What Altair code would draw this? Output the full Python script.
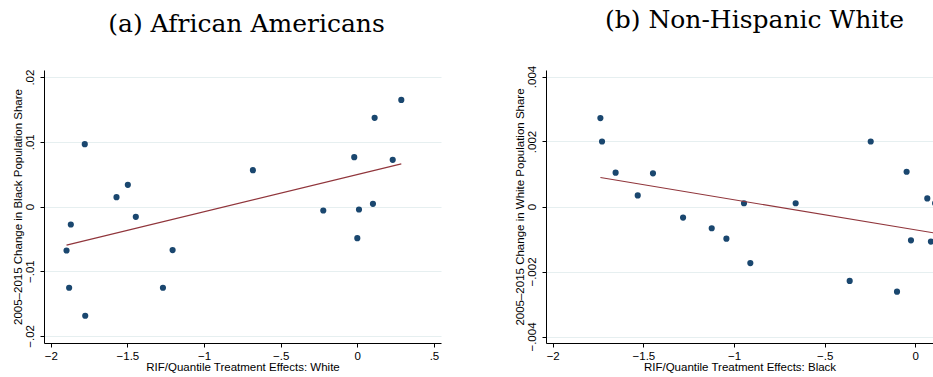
import altair as alt
import pandas as pd

# Panel (a): African Americans
a_x = [-1.778, 0.287, 0.113, -0.020, 0.231, -0.681, -1.497, -1.571, -1.445, -1.869,
       -0.222, 0.011, 0.102, 0.000, -1.897, -1.205, -1.880, -1.268, -1.775]
a_y = [0.00963, 0.01647, 0.0137, 0.00762, 0.00721, 0.00561, 0.00335, 0.00144, -0.0016, -0.00278,
       -0.00062, -0.00046, 0.00041, -0.00489, -0.0068, -0.00674, -0.01256, -0.01256, -0.01689]
a_fit_x = [-1.897, 0.287]
a_fit_y = [-0.00597, 0.00659]

# Panel (b): Non-Hispanic White
b_x = [-1.737, -1.728, -1.653, -1.447, -1.531, -1.281, -1.123, -1.042, -0.945, -0.910,
       -0.660, -0.362, -0.246, -0.101, -0.048, -0.024, 0.066, 0.086, 0.109]
b_y = [0.00272, 0.0020, 0.00104, 0.00102, 0.00034, -0.00034, -0.00067, -0.00099, 0.0001, -0.00174,
       0.0001, -0.00229, 0.0020, -0.00262, 0.00107, -0.00104, 0.00025, -0.00108, 0.0001]
b_fit_x = [-1.737, 0.1]
b_fit_y = [0.00089, -0.00081]

a_xticks = [-2, -1.5, -1, -0.5, 0, 0.5]
a_yticks = [-0.02, -0.01, 0, 0.01, 0.02]
b_xticks = [-2, -1.5, -1, -0.5, 0]
b_yticks = [-0.004, -0.002, 0, 0.002, 0.004]

SANS = "Liberation Sans"
SERIF = "DejaVu Serif"
LBL = "datum.value == 0 ? '0' : replace(format(datum.value, '.3~f'), '0.', '.')"


def panel(px, py, fx, fy, xdom, ydom, xticks, yticks, xtitle, ytitle, title, tdx, width):
    pts = pd.DataFrame({"x": px, "y": py})
    fit = pd.DataFrame({"x": fx, "y": fy})
    xenc = alt.X("x:Q", scale=alt.Scale(domain=xdom, nice=False, zero=False),
                 axis=alt.Axis(values=xticks, labelExpr=LBL, grid=False, tickSize=4,
                               labelPadding=3, labelFont=SANS, labelFontSize=11.5,
                               labelColor="black", title=xtitle, titleFont=SANS,
                               titleFontSize=11.5, titleFontWeight="normal", titleColor="black",
                               titlePadding=0, domainColor="black", tickColor="black",
                               labelFlush=False))
    yenc = alt.Y("y:Q", scale=alt.Scale(domain=ydom, nice=False, zero=False),
                 axis=alt.Axis(values=yticks, labelExpr=LBL, grid=True, gridColor="#e6eff0",
                               gridWidth=1, tickSize=4, labelPadding=5, labelAngle=270,
                               labelAlign="center", labelBaseline="bottom", labelFont=SANS,
                               labelFontSize=11.5, labelColor="black", title=ytitle,
                               titleFont=SANS, titleFontSize=11.5, titleFontWeight="normal",
                               titleColor="black", titlePadding=1, domainColor="black",
                               tickColor="black", labelFlush=False))
    dots = alt.Chart(pts).mark_circle(size=38, color="#1a476f", opacity=1, clip=True).encode(
        x=xenc, y=yenc)
    line = alt.Chart(fit).mark_line(color="#90353b", strokeWidth=1.1, clip=True).encode(
        x="x:Q", y="y:Q")
    return alt.layer(dots, line).properties(
        width=width, height=273,
        title=alt.TitleParams(title, font=SERIF, fontSize=25, fontWeight="normal",
                              color="black", anchor="middle", dx=tdx, offset=32))


left = panel(a_x, a_y, a_fit_x, a_fit_y, [-2.044, 0.546], [-0.0211, 0.0211], a_xticks, a_yticks,
             "RIF/Quantile Treatment Effects: White",
             "2005\u20132015 Change in Black Population Share",
             "(a) African Americans", 4, 397)
right = panel(b_x, b_y, b_fit_x, b_fit_y, [-2.037, 0.0975], [-0.0042, 0.0042], b_xticks, b_yticks,
              "RIF/Quantile Treatment Effects: Black",
              "2005\u20132015 Change in White Population Share",
              "(b) Non-Hispanic White", 15, 387)

chart = alt.hconcat(left, right, spacing=105, bounds="flush").properties(
    padding={"left": 11, "top": 8, "right": 0, "bottom": 0},
    background="white",
).configure_view(stroke=None)

chart.save("out.html", embed_options={"renderer": "svg", "actions": False})
